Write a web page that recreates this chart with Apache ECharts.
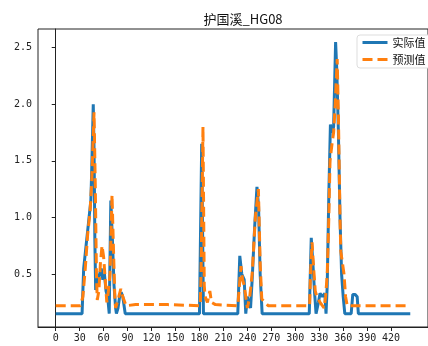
<!DOCTYPE html>
<html>
<head>
<meta charset="utf-8">
<script src="https://cdn.jsdelivr.net/npm/echarts@6/dist/echarts.min.js"></script>
<style>
  html, body { margin: 0; padding: 0; background: #fff; }
  #main { width: 428px; height: 346px; }
</style>
</head>
<body>
<div id="main"></div>
<script>
// 实际值 breakpoints (x index, value)
const actualX = [0, 33, 35, 38, 41, 44, 45, 47, 48, 49, 50, 52, 55, 57, 59, 61, 63, 65, 67, 69, 71, 73, 75, 76, 78, 80, 82, 84, 87,
  180, 182.8, 185, 228, 230.5, 233, 236, 238, 240, 242, 244, 246, 249, 252, 254, 256, 258.5,
  317.5, 320, 322, 324, 326, 329, 331, 334, 337, 338.5, 340, 342, 344, 346, 348, 350.5, 352, 354, 356, 358, 360, 362,
  370, 372, 375, 377.5, 379, 444];
const actualY = [0.15, 0.15, 0.55, 0.75, 0.95, 1.15, 1.4, 2.0, 1.6, 0.8, 0.36, 0.42, 0.5, 0.55, 0.45, 0.5, 0.35, 0.3, 0.15, 1.15, 0.8, 0.4, 0.2, 0.15, 0.2, 0.3, 0.34, 0.3, 0.15,
  0.15, 1.65, 0.15, 0.15, 0.66, 0.5, 0.45, 0.15, 0.3, 0.25, 0.2, 0.45, 0.9, 1.27, 1.1, 0.5, 0.15,
  0.15, 0.82, 0.6, 0.35, 0.15, 0.25, 0.33, 0.3, 0.33, 0.15, 0.4, 1.2, 1.82, 1.75, 1.8, 2.55, 2.3, 1.75, 1.0, 0.5, 0.3, 0.15,
  0.15, 0.32, 0.32, 0.3, 0.15, 0.15];

// 预测值 breakpoints
const predX = [0, 31, 34, 37, 40, 43, 45, 48, 49.5, 51, 52, 54, 56, 58, 60, 62, 64, 66, 68, 70.5, 72, 74, 75, 77, 79, 81.5, 84, 88,
  100, 140, 181, 182, 184.4, 186, 187, 190, 193, 195, 200, 228, 229.5, 232, 234, 236, 238, 240, 243, 246, 250, 253.8, 256, 258, 262, 266,
  318, 319, 321, 323, 325, 327, 331, 336, 338, 340, 342, 343.5, 346, 348, 350, 352.5, 354, 356, 357, 359, 361, 363, 365, 444];
const predY = [0.22, 0.22, 0.3, 0.55, 0.85, 1.05, 1.3, 1.93, 1.3, 0.5, 0.27, 0.35, 0.6, 0.75, 0.65, 0.45, 0.25, 0.35, 0.5, 1.2, 0.8, 0.3, 0.2, 0.25, 0.3, 0.37, 0.3, 0.22,
  0.23, 0.23, 0.22, 0.5, 1.8, 0.4, 0.3, 0.25, 0.35, 0.25, 0.23, 0.22, 0.35, 0.57, 0.45, 0.4, 0.3, 0.2, 0.3, 0.5, 1.0, 1.25, 0.6, 0.28, 0.25, 0.22,
  0.22, 0.5, 0.78, 0.55, 0.35, 0.3, 0.25, 0.2, 0.3, 0.5, 1.0, 1.5, 1.65, 1.75, 2.0, 2.4, 1.9, 1.0, 0.7, 0.6, 0.5, 0.3, 0.22, 0.22];

const xTicks = [0, 30, 60, 90, 120, 150, 180, 210, 240, 270, 300, 330, 360, 390, 420];
const yTicks = [0.5, 1.0, 1.5, 2.0, 2.5];

const zip = (xs, ys) => xs.map((x, i) => [x, ys[i]]);

const chart = echarts.init(document.getElementById('main'));
const font = '"Noto Sans CJK SC", "DejaVu Sans", sans-serif';
const tickFont = '"DejaVu Sans Mono", monospace';

chart.setOption({
  animation: false,
  title: {
    text: '护国溪_HG08',
    left: 238, top: 8, textAlign: 'center',
    textStyle: { fontSize: 13, fontWeight: 'normal', color: '#111', fontFamily: font }
  },
  legend: {
    left: 357, top: 35,
    orient: 'vertical',
    itemWidth: 25, itemHeight: 12, itemGap: 6,
    padding: [2, 30, 3, 4],
    backgroundColor: '#fff',
    borderColor: '#ddd', borderWidth: 1, borderRadius: 3,
    itemStyle: { opacity: 0 },
    lineStyle: { width: 3 },
    textStyle: { fontSize: 11, color: '#111', fontFamily: font },
    data: ['实际值', '预测值']
  },
  grid: { left: 38, top: 29, bottom: 19, right: -9, show: true, borderColor: '#222', borderWidth: 1 },
  xAxis: {
    type: 'value', min: -22.2, max: 466.2,
    axisLine: { show: true, onZero: false, lineStyle: { color: '#222' } },
    axisTick: { show: true, customValues: xTicks, length: 4, lineStyle: { color: '#222' } },
    axisLabel: { customValues: xTicks, fontSize: 10, color: '#222', fontFamily: tickFont, margin: 6 },
    splitLine: { show: false }
  },
  yAxis: {
    type: 'value', min: 0.032, max: 2.665,
    axisLine: { show: true, lineStyle: { color: '#222' } },
    axisTick: { show: true, customValues: yTicks, length: 4, lineStyle: { color: '#222' } },
    axisLabel: { customValues: yTicks, fontSize: 10, color: '#222', fontFamily: tickFont, margin: 6,
      formatter: v => v.toFixed(1) },
    splitLine: { show: false }
  },
  series: [
    {
      name: '实际值', type: 'line', symbol: 'none',
      data: zip(actualX, actualY),
      lineStyle: { color: '#1f77b4', width: 3 },
      itemStyle: { color: '#1f77b4' }
    },
    {
      name: '预测值', type: 'line', symbol: 'none',
      data: zip(predX, predY),
      lineStyle: { color: '#ff7f0e', width: 3, type: [10, 5] },
      itemStyle: { color: '#ff7f0e' }
    }
  ]
});
</script>
</body>
</html>
